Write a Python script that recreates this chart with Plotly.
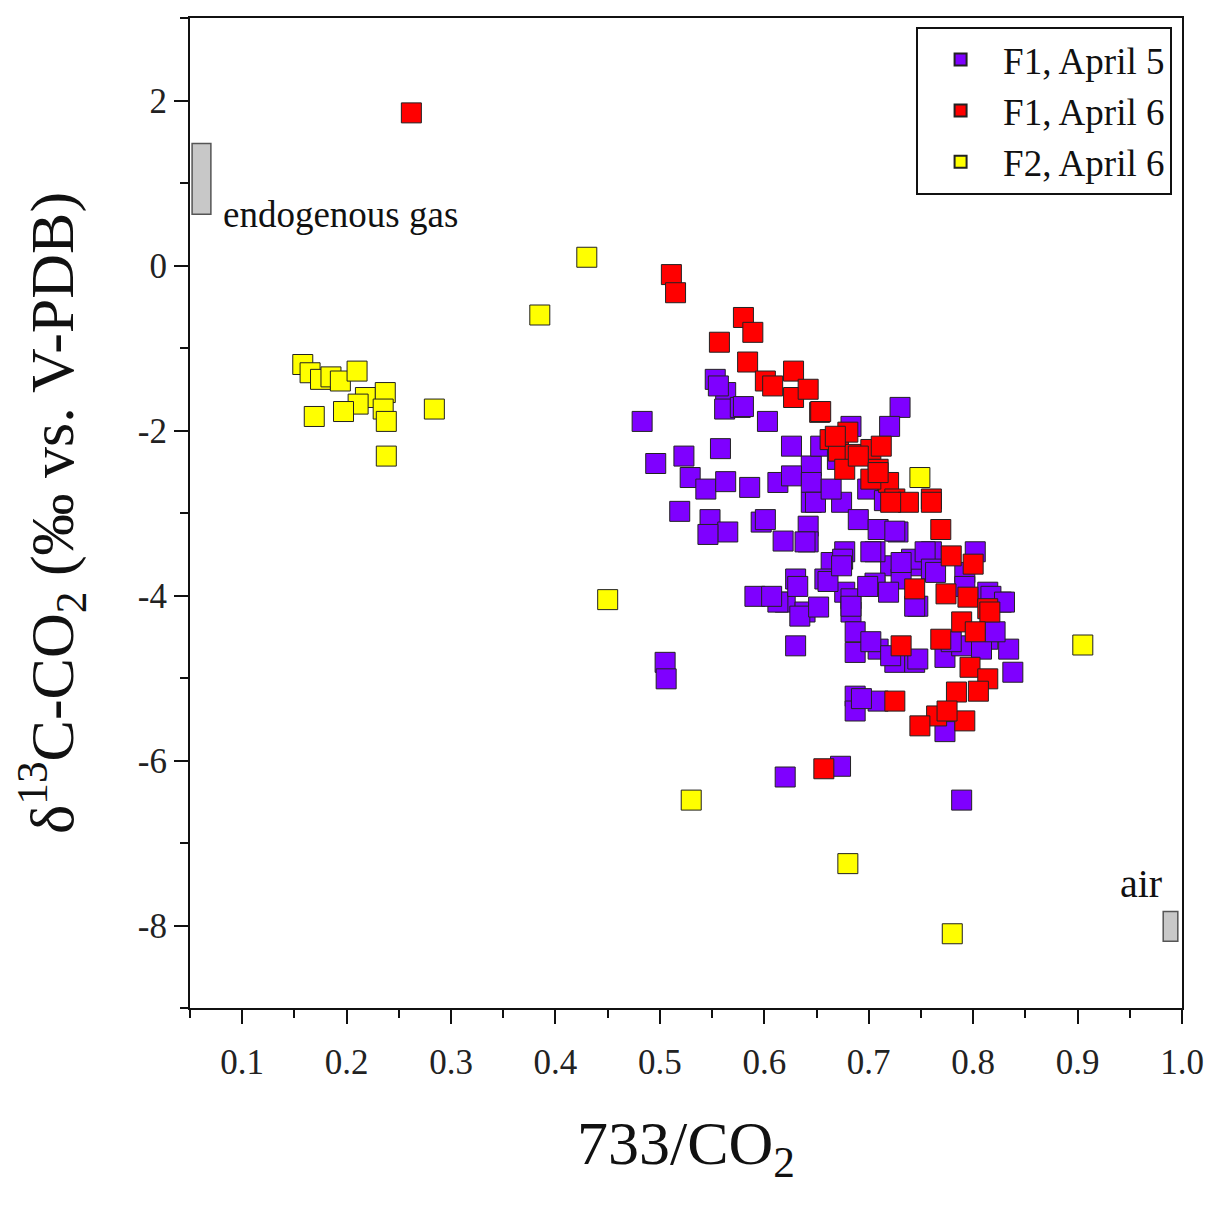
import plotly.graph_objects as go

# F1, April 5 (purple)
f1_apr5_x = [0.483, 0.496, 0.523, 0.558, 0.553, 0.563, 0.562, 0.577, 0.603, 0.626,
             0.529, 0.544, 0.563, 0.586, 0.613, 0.519, 0.548, 0.565, 0.546, 0.597,
             0.618, 0.591, 0.620, 0.630, 0.645, 0.626, 0.645, 0.674, 0.645, 0.642,
             0.642, 0.664, 0.677, 0.613, 0.632, 0.658, 0.639, 0.677, 0.683, 0.556,
             0.634, 0.652, 0.661, 0.675, 0.683, 0.706, 0.687, 0.687, 0.709, 0.725,
             0.744, 0.773, 0.789, 0.814, 0.834, 0.838, 0.827, 0.814, 0.747, 0.744,
             0.721, 0.760, 0.792, 0.802, 0.706, 0.505, 0.506, 0.630, 0.687, 0.687,
             0.709, 0.773, 0.620, 0.673, 0.789, 0.730, 0.720, 0.683, 0.649, 0.664,
             0.690, 0.709, 0.728, 0.702, 0.741, 0.754, 0.760, 0.674, 0.607, 0.706,
             0.731, 0.792, 0.817, 0.830, 0.683, 0.702, 0.721, 0.747, 0.779, 0.808,
             0.821, 0.693, 0.725, 0.731, 0.764, 0.699, 0.719, 0.744, 0.580, 0.601,
             0.639, 0.654, 0.670, 0.699, 0.715]
f1_apr5_y = [-1.89, -2.40, -2.31, -2.22, -1.38, -1.54, -1.74, -1.72, -1.89, -2.19,
             -2.57, -2.71, -2.62, -2.69, -2.63, -2.98, -3.08, -3.23, -3.26, -3.11,
             -3.34, -4.01, -4.08, -3.80, -2.43, -2.55, -2.63, -2.87, -2.87, -3.16,
             -3.35, -3.60, -3.47, -4.08, -3.89, -3.80, -4.20, -3.96, -4.20, -1.46,
             -4.25, -4.14, -3.83, -3.56, -4.04, -3.89, -4.44, -4.69, -4.65, -4.81,
             -4.81, -4.75, -4.61, -4.53, -4.65, -4.93, -4.08, -3.96, -4.13, -3.64,
             -3.64, -3.47, -3.72, -3.47, -3.47, -4.81, -5.01, -4.61, -5.22, -5.40,
             -5.28, -5.65, -6.20, -6.07, -6.48, -1.72, -1.95, -1.95, -2.87, -2.71,
             -3.08, -3.20, -3.23, -3.47, -3.56, -3.47, -3.68, -3.64, -4.01, -3.85,
             -3.80, -3.89, -4.01, -4.08, -4.13, -4.56, -4.73, -4.77, -4.56, -4.65,
             -4.44, -5.25, -3.22, -3.60, -3.72, -3.89, -3.96, -4.13, -1.71, -3.08,
             -3.35, -2.19, -2.35, -2.71, -2.85]

# F1, April 6 (red)
f1_apr6_x = [0.262, 0.511, 0.515, 0.580, 0.589, 0.557, 0.584, 0.601, 0.608, 0.628,
             0.628, 0.642, 0.653, 0.663, 0.671, 0.680, 0.687, 0.702, 0.709, 0.677,
             0.719, 0.725, 0.738, 0.760, 0.702, 0.712, 0.654, 0.668, 0.690, 0.709,
             0.721, 0.760, 0.769, 0.779, 0.800, 0.744, 0.774, 0.795, 0.814, 0.816,
             0.789, 0.802, 0.769, 0.731, 0.797, 0.814, 0.805, 0.784, 0.725, 0.765,
             0.749, 0.792, 0.657, 0.775]
f1_apr6_y = [1.85, -0.11, -0.33, -0.63, -0.81, -0.93, -1.17, -1.40, -1.46, -1.28,
             -1.60, -1.50, -1.78, -2.11, -2.25, -2.02, -2.29, -2.23, -2.47, -2.47,
             -2.63, -2.83, -2.87, -2.83, -2.59, -2.19, -1.77, -2.07, -2.31, -2.51,
             -2.87, -2.87, -3.20, -3.52, -3.62, -3.92, -3.98, -4.02, -4.16, -4.20,
             -4.32, -4.44, -4.53, -4.61, -4.87, -5.01, -5.16, -5.17, -5.28, -5.46,
             -5.58, -5.52, -6.10, -5.40]

# F2, April 6 (yellow)
f2_apr6_x = [0.430, 0.385, 0.158, 0.165, 0.175, 0.185, 0.194, 0.210, 0.218, 0.211,
             0.237, 0.235, 0.238, 0.197, 0.169, 0.238, 0.284, 0.450, 0.530, 0.680,
             0.780, 0.905, 0.749]
f2_apr6_y = [0.10, -0.60, -1.20, -1.30, -1.38, -1.35, -1.40, -1.28, -1.60, -1.68,
             -1.54, -1.74, -1.89, -1.77, -1.83, -2.31, -1.74, -4.05, -6.48, -7.25,
             -8.10, -4.60, -2.57]

series_names = ["F1, April 5", "F1, April 6", "F2, April 6"]
series_colors = ["#7F00FF", "#FF0000", "#FFFF00"]

x_tickvals = [0.1, 0.2, 0.3, 0.4, 0.5, 0.6, 0.7, 0.8, 0.9, 1.0]
x_ticktext = ["0.1", "0.2", "0.3", "0.4", "0.5", "0.6", "0.7", "0.8", "0.9", "1.0"]
y_tickvals = [2, 0, -2, -4, -6, -8]
y_ticktext = ["2", "0", "-2", "-4", "-6", "-8"]

# reference end-member boxes
endo_box_x = [0.052, 0.070]
endo_box_y = [0.62, 1.48]
air_box_x = [0.982, 0.996]
air_box_y = [-8.19, -7.83]

FONT = "Liberation Serif, Times New Roman, serif"

fig = go.Figure()
for xs, ys, name, col in zip([f1_apr5_x, f1_apr6_x, f2_apr6_x],
                              [f1_apr5_y, f1_apr6_y, f2_apr6_y],
                              series_names, series_colors):
    fig.add_trace(go.Scatter(
        x=xs, y=ys, mode="markers", name=name,
        marker=dict(symbol="square", size=20, color=col,
                    line=dict(color="#222222", width=1)),
    ))

fig.add_shape(type="rect", x0=endo_box_x[0], x1=endo_box_x[1], y0=endo_box_y[0], y1=endo_box_y[1],
              xref="x", yref="y", fillcolor="#c8c8c8", line=dict(color="#555555", width=1.5))
fig.add_shape(type="rect", x0=air_box_x[0], x1=air_box_x[1], y0=air_box_y[0], y1=air_box_y[1],
              xref="x", yref="y", fillcolor="#c8c8c8", line=dict(color="#555555", width=1.5))

fig.add_annotation(x=0.08, y=0.62, text="endogenous gas", showarrow=False,
                   xanchor="left", yanchor="middle", font=dict(family=FONT, size=37, color="#111111"))
fig.add_annotation(x=0.961, y=-7.49, text="air", showarrow=False,
                   xanchor="center", yanchor="middle", font=dict(family=FONT, size=40, color="#111111"))

axis_common = dict(
    showgrid=False, zeroline=False, showline=True, linecolor="#111111", linewidth=2,
    mirror=True, ticks="outside", tickcolor="#111111", tickwidth=2, ticklen=14,
    tickfont=dict(family=FONT, size=35, color="#222222"),
)

fig.update_xaxes(
    range=[0.05, 1.0], tickvals=x_tickvals, ticktext=x_ticktext,
    minor=dict(dtick=0.05, tick0=0.05, ticks="outside", ticklen=8, tickwidth=2, tickcolor="#111111"),
    title=dict(text="733/CO<sub>2</sub>", font=dict(family=FONT, size=62, color="#111111"), standoff=40),
    ticklabelstandoff=8,
    **axis_common,
)
fig.update_yaxes(
    range=[-9, 3], tickvals=y_tickvals, ticktext=y_ticktext,
    minor=dict(dtick=1, tick0=1, ticks="outside", ticklen=8, tickwidth=2, tickcolor="#111111"),
    title=dict(text="δ<sup>13</sup>C-CO<sub>2</sub> (‰ vs. V-PDB)", font=dict(family=FONT, size=62, color="#111111"), standoff=50),
    **axis_common,
)

fig.update_layout(
    width=1217, height=1205,
    margin=dict(l=182, r=43, t=10, b=205, autoexpand=False),
    plot_bgcolor="white", paper_bgcolor="white",
    showlegend=True,
    legend=dict(x=0.99, y=0.991, xanchor="right", yanchor="top",
                bgcolor="white", bordercolor="#111111", borderwidth=2,
                font=dict(family=FONT, size=37, color="#111111"),
                itemsizing="constant", itemwidth=75, tracegroupgap=0),
)

fig.write_html("out.html")
